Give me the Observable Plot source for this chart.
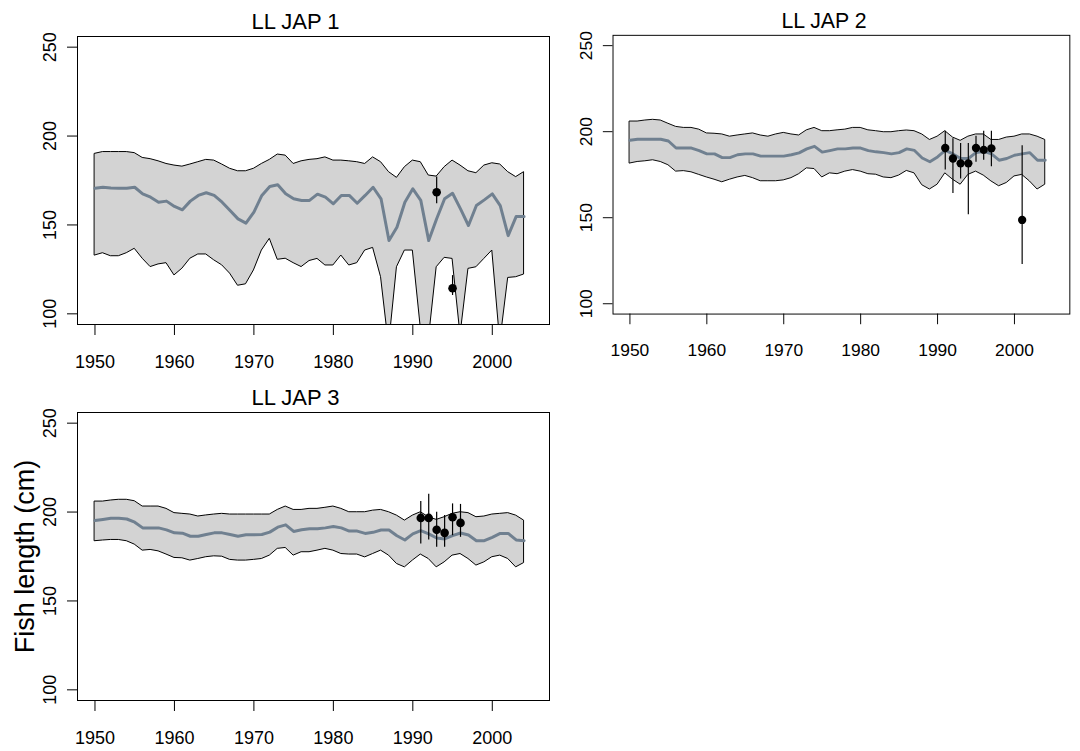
<!DOCTYPE html>
<html>
<head>
<meta charset="utf-8">
<script src="https://cdn.jsdelivr.net/npm/d3@7"></script>
<script src="https://cdn.jsdelivr.net/npm/@observablehq/plot@0.6"></script>
<style>
  html, body { margin: 0; padding: 0; background: white; }
  #wrap { position: relative; width: 1080px; height: 751px; overflow: hidden; background: white; }
  .panel { position: absolute; }
</style>
</head>
<body>
<div id="wrap"></div>
<script>
const years = [1950,1951,1952,1953,1954,1955,1956,1957,1958,1959,1960,1961,1962,1963,1964,1965,1966,1967,1968,1969,1970,1971,1972,1973,1974,1975,1976,1977,1978,1979,1980,1981,1982,1983,1984,1985,1986,1987,1988,1989,1990,1991,1992,1993,1994,1995,1996,1997,1998,1999,2000,2001,2002,2003,2004];

const xTicks = [1950, 1960, 1970, 1980, 1990, 2000];
const yTicks = [100, 150, 200, 250];
const titles = ["LL JAP 1", "LL JAP 2", "LL JAP 3"];
const yLabel = "Fish length (cm)";

// Panel 1
const upper1 = [190,191,191,191,191,190.4,187.7,187,185.8,184.3,183.4,182.8,184,185.3,186.6,186.2,184,181.6,180.2,180.2,181.6,184.3,186.6,189.6,189,184.3,185.8,186.6,187,188,186.2,186.2,185.8,185.3,184.3,188,185.3,179.7,176.5,182.5,186.2,185.3,177.8,177.2,182.5,186.2,183.4,180.2,179.1,183.4,184.7,184,179.7,176.9,179.7];
const median1 = [170.6,171.2,170.8,170.6,170.6,171.2,167.5,165.6,162.8,163.4,160.4,158.5,163.4,166.6,168.1,166.6,162.8,158.1,153.4,151,157.2,166.6,171.6,172.6,167.5,164.7,163.8,163.8,167.3,165.6,161.9,166.6,166.6,162.2,166.6,171.2,164.7,141.2,148.7,162.8,170.3,163.8,141.2,153.5,164.7,167.8,159,149.7,160.9,164.1,167.5,160.9,144,154.7,154.7];
const lower1 = [132.8,134.1,132.4,132.4,134.1,136.6,131,126.3,127.8,128.5,121.6,125.4,131,133.4,133.4,130.1,127.3,122.6,115.8,116.6,124.4,135.6,142.2,130.4,131,128.5,126.3,129.7,130.9,127.2,127.2,132.8,127.2,128.5,135.6,137.1,120.6,82,126.2,135.6,135.6,92,85,126.2,131.5,130.9,88,125.3,126.2,130.9,135.6,84,120.2,120.6,122.1];
const obsYears1 = [1993, 1995];
const obs1 = [168.4, 114.4];
const obsLo1 = [161.9, 110.3];
const obsHi1 = [176.9, 121.5];

// Panel 2
const upper2 = [205.9,205.9,206.5,206.9,206.5,204.6,202.8,202.2,202.2,201.2,199,198.8,198.4,197.1,197.8,198.4,199,197.8,197.1,198.4,199.3,198.4,197.8,200.8,202.2,200.3,200.3,200.8,201.2,202.2,202.2,200.8,200.3,199.7,199.7,200.3,200.7,200.3,198.4,195.2,197.1,200.3,196.6,194.7,197.1,198.4,198.4,195.2,195.2,196.6,197.1,198.4,198.4,197.1,195.2];
const median2 = [195,195.6,195.6,195.6,195.6,194.6,190.5,190.5,190.5,189,187.1,187.1,184.9,184.9,186.6,187.1,187.1,185.8,185.8,185.8,185.8,186.6,187.7,190,191.5,188.1,189,190,190,190.5,190.5,189,188.3,187.8,187.1,187.8,190,189.1,184.7,182.5,185.3,189.1,187.1,184.4,184.4,187.8,188.5,187.1,183.4,184.4,186.3,187.1,187.8,183.4,183.4];
const lower2 = [181.5,182.4,182.8,183.4,182.4,180.5,176.8,177.1,176.4,174.9,173.4,172.1,170.6,172.1,173.4,174.3,173,171.2,171.2,171.2,171.7,173,175.3,178.7,178.3,173.4,175.8,175.3,176.8,177.7,176.8,175.3,175,173.4,173,174.5,177.2,175.8,168.9,166.4,169.2,175.8,172.1,169.2,174.9,176.8,174.5,171.1,168.3,170.2,174,174.9,171.1,166.4,169.2];
const obsYears2 = [1991, 1992, 1993, 1994, 1995, 1996, 1997, 2001];
const obs2 = [190.5, 184.4, 181.6, 181.6, 190.5, 189.4, 190.3, 148.7];
const obsLo2 = [177.8, 164.1, 172.5, 151.7, 182.3, 183.4, 179.6, 122.8];
const obsHi2 = [200.3, 195.9, 193.1, 193.1, 197.3, 200.3, 200.3, 191.8];

// Panel 3
const upper3 = [205.9,205.9,206.5,206.9,206.9,206.1,203.1,203.1,203.1,201.8,199.4,199,198.6,197.5,198.1,198.6,199,198.6,198.6,198.6,198.6,198.6,198.6,201.2,203.1,201.2,201.2,201.8,201.8,202.4,203.1,201.8,199.9,199.9,199.9,200.8,201.2,199.9,198,195.2,198,199.9,197.1,195.6,197.1,199,199.9,199.4,197.1,197.5,198.6,199,199.4,198,195.2];
const median3 = [195.2,195.8,196.5,196.5,196.1,194.3,191.1,191.1,191.1,190,188.3,188.1,186.4,186.4,187.4,188.3,188.3,187.4,186.4,187.2,187.2,187.4,188.7,191.5,192.8,189.1,190,190.6,190.6,191.1,191.9,191.1,189.3,189.3,188,188.6,189.9,189.9,186.7,184.3,187.7,189.5,187.7,185.4,184.9,186.7,188.2,187.1,183.9,183.9,185.8,188,188,184.3,183.9];
const lower3 = [183.6,184,184.3,184.3,183.6,181.7,178.3,178.7,177.9,176.1,174.2,174,172.7,173.6,174.6,175.1,174.9,173.1,172.7,172.7,173.1,173.6,175.5,179.3,179.8,175.5,177.4,177.4,178.3,179.3,178.3,176.4,176.1,176.1,174.5,176.4,178.3,175.5,170.8,168.9,172.7,176.1,173.6,168.9,171.7,175.5,176.4,173.6,169.9,171.7,174.6,175.5,173.6,168.9,171.3];
const obsYears3 = [1991, 1992, 1993, 1994, 1995, 1996];
const obs3 = [196.7, 196.7, 190, 188.3, 197.1, 193.9];
const obsLo3 = [182.1, 184.3, 180.2, 180.2, 186.7, 185.8];
const obsHi3 = [205.9, 210, 199.9, 198, 204.6, 204.3];

function makeRows(u, m, l) {
  return years.map((yr, i) => ({year: yr, upper: u[i], median: m[i], lower: l[i]}));
}
function makePts(ys, v, lo, hi) {
  return ys.map((yr, i) => ({year: yr, val: v[i], lo: lo[i], hi: hi[i]}));
}

const panels = [
  {title: titles[0], rows: makeRows(upper1, median1, lower1), pts: makePts(obsYears1, obs1, obsLo1, obsHi1), left: 0, top: 0, ylab: false},
  {title: titles[1], rows: makeRows(upper2, median2, lower2), pts: makePts(obsYears2, obs2, obsLo2, obsHi2), left: 538, top: 0, ylab: false},
  {title: titles[2], rows: makeRows(upper3, median3, lower3), pts: makePts(obsYears3, obs3, obsLo3, obsHi3), left: 0, top: 376, ylab: true}
];

const FONT = "'Liberation Sans', Arial, Helvetica, sans-serif";
const wrap = document.getElementById("wrap");

for (const p of panels) {
  const marks = [
    Plot.areaY(p.rows, {x: "year", y1: "lower", y2: "upper", fill: "#d3d3d3", stroke: "black", strokeWidth: 1, clip: true}),
    Plot.lineY(p.rows, {x: "year", y: "median", stroke: "#708090", strokeWidth: 3, clip: true}),
    Plot.ruleX(p.pts, {x: "year", y1: "lo", y2: "hi", stroke: "black", strokeWidth: 1.2}),
    Plot.dot(p.pts, {x: "year", y: "val", r: 4.3, fill: "black"}),
    Plot.frame({stroke: "black", strokeWidth: 1}),
    Plot.axisX({ticks: xTicks, tickFormat: d => String(d), tickSize: 11, tickPadding: 20, fontSize: 18, label: null}),
    Plot.axisY({ticks: yTicks, tickFormat: d => String(d), tickSize: 10, tickPadding: 12, tickRotate: -90, fontSize: 18, label: null}),
    Plot.text([p.title], {frameAnchor: "top", dy: -8, dx: -18, lineAnchor: "bottom", textAnchor: "middle", fontSize: 22})
  ];
  if (p.ylab) {
    marks.push(Plot.text([yLabel], {frameAnchor: "left", dx: -52, rotate: -90, textAnchor: "middle", lineAnchor: "middle", fontSize: 27}));
  }
  const chart = Plot.plot({
    width: 560,
    height: 376,
    marginLeft: 77,
    marginRight: 11,
    marginTop: 36,
    marginBottom: 52,
    x: {domain: [1947.8, 2007.2], axis: null},
    y: {domain: [94, 256], axis: null},
    style: {fontFamily: FONT, color: "black", background: "transparent", overflow: "visible"},
    marks
  });
  const div = document.createElement("div");
  div.className = "panel";
  div.style.left = p.left + "px";
  div.style.top = p.top + "px";
  div.appendChild(chart);
  wrap.appendChild(div);
}
</script>
</body>
</html>
